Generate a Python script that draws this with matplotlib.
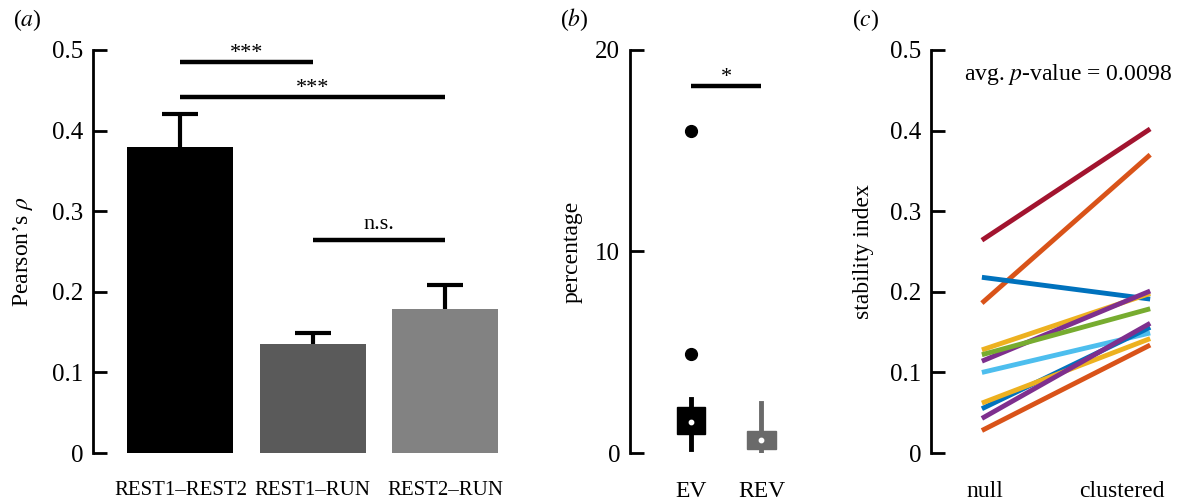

# plot.py
# Three-panel figure: correlation bars, EV/REV boxplot, stability index lines

import numpy as np
import matplotlib.pyplot as plt

plt.rcParams["font.family"] = ["Liberation Serif", "DejaVu Serif"]
plt.rcParams["mathtext.fontset"] = "stix"

# (a) Pearson's rho per session pair
pair_labels = ["REST1\u2013REST2", "REST1\u2013RUN", "REST2\u2013RUN"]
rho_mean = [0.38, 0.135, 0.179]
rho_err = [0.04, 0.014, 0.029]
bar_colors = ["#000000", "#5a5a5a", "#828282"]

# significance brackets: (left bar, right bar, height, label)
sig_pairs = [(0, 1, 0.485, "***"), (0, 2, 0.441, "***"), (1, 2, 0.264, "n.s.")]

# (b) boxplot summaries
box_labels = ["EV", "REV"]
box_q1 = [0.94, 0.2]
box_q3 = [2.27, 1.09]
box_med = [1.53, 0.64]
box_wlo = [0.2, 0.0]
box_whi = [2.7, 2.47]
box_fliers = [[4.9, 16.0], []]
box_colors = ["#000000", "#6a6a6a"]

# (c) stability index, null vs clustered
cond_labels = ["null", "clustered"]
null_vals = [0.264, 0.186, 0.218, 0.128, 0.114, 0.122, 0.100, 0.055, 0.062, 0.043, 0.028]
clus_vals = [0.402, 0.370, 0.191, 0.198, 0.201, 0.179, 0.149, 0.156, 0.142, 0.161, 0.134]
line_colors = ["#A2142F", "#D95319", "#0072BD", "#EDB120", "#7E2F8E", "#77AC30",
               "#4DBEEE", "#0072BD", "#EDB120", "#7E2F8E", "#D95319"]


def style_axis(ax):
    ax.spines["top"].set_visible(False)
    ax.spines["right"].set_visible(False)
    ax.spines["bottom"].set_visible(False)
    ax.spines["left"].set_linewidth(2)
    ax.tick_params(axis="y", direction="in", length=10, width=2, pad=7, labelsize=18)
    ax.tick_params(axis="x", length=0, pad=20, labelsize=15)


fig = plt.figure(figsize=(11.82, 5.04), dpi=100)

# ---- panel (a)
ax1 = fig.add_axes([0.0787, 0.101, 0.345, 0.8])
x = np.arange(len(pair_labels))
ax1.bar(x, rho_mean, width=0.8, color=bar_colors, zorder=2)
eb = ax1.errorbar(x, rho_mean, yerr=rho_err, fmt="none", ecolor="black",
                  elinewidth=3, capsize=13, capthick=3, zorder=1)
eb[1][0].set_visible(False)  # hide lower caps, only the upper half is shown
for i, j, h, lab in sig_pairs:
    ax1.plot([x[i], x[j]], [h, h], color="black", lw=3.2, solid_capstyle="butt")
    if lab == "n.s.":
        ax1.text((x[i] + x[j]) / 2, h + 0.014, lab, ha="center", va="baseline", fontsize=16)
    else:
        ax1.text((x[i] + x[j]) / 2, h + 0.005, lab, ha="center", va="baseline", fontsize=16)
ax1.set_xlim(-0.66, 2.42)
ax1.set_ylim(0, 0.5)
ax1.set_yticks([0, 0.1, 0.2, 0.3, 0.4, 0.5])
ax1.set_yticklabels(["0", "0.1", "0.2", "0.3", "0.4", "0.5"])
ax1.set_xticks(x)
ax1.set_xticklabels(pair_labels)
ax1.set_ylabel("Pearson\u2019s $\\rho$", fontsize=17, labelpad=12)
style_axis(ax1)
fig.text(0.011, 0.948, "($\\it{a}$)", fontsize=17)

# ---- panel (b)
ax2 = fig.add_axes([0.533, 0.101, 0.135, 0.8])
pos = [1, 2]
stats = []
for k in range(2):
    stats.append(dict(med=box_med[k], q1=box_q1[k], q3=box_q3[k],
                      whislo=box_wlo[k], whishi=box_whi[k], fliers=box_fliers[k]))
for k in range(2):
    ax2.bxp([stats[k]], positions=[pos[k]], widths=0.4, patch_artist=True,
            showcaps=False,
            boxprops=dict(facecolor=box_colors[k], edgecolor=box_colors[k], lw=1),
            whiskerprops=dict(color=box_colors[k], lw=3.5),
            medianprops=dict(visible=False),
            flierprops=dict(marker="o", markerfacecolor=box_colors[k],
                            markeredgecolor=box_colors[k], markersize=8.5))
ax2.scatter(pos, box_med, s=10, color="white", zorder=5)
ax2.plot([pos[0], pos[1]], [18.2, 18.2], color="black", lw=3.2, solid_capstyle="butt")
ax2.text(1.5, 18.4, "*", ha="center", va="baseline", fontsize=16)
ax2.set_xlim(0.13, 2.4)
ax2.set_ylim(0, 20)
ax2.set_yticks([0, 10, 20])
ax2.set_xticks(pos)
ax2.set_xticklabels(box_labels)
ax2.set_ylabel("percentage", fontsize=17, labelpad=9)
style_axis(ax2)
ax2.tick_params(axis="x", labelsize=17)
fig.text(0.474, 0.948, "($\\it{b}$)", fontsize=17)

# ---- panel (c)
ax3 = fig.add_axes([0.788, 0.101, 0.205, 0.8])
for nv, cv, c in zip(null_vals, clus_vals, line_colors):
    ax3.plot([0, 1], [nv, cv], color=c, lw=3.5, solid_capstyle="butt")
ax3.text(0.51, 0.47, "avg. $\\it{p}$-value = 0.0098", ha="center", va="center", fontsize=17)
ax3.set_xlim(-0.30, 1.14)
ax3.set_ylim(0, 0.5)
ax3.set_yticks([0, 0.1, 0.2, 0.3, 0.4, 0.5])
ax3.set_yticklabels(["0", "0.1", "0.2", "0.3", "0.4", "0.5"])
# label positions under the two ends (the right label sits a bit inward)
ax3.set_xticks([0.02, 0.83])
ax3.set_xticklabels(cond_labels)
ax3.set_ylabel("stability index", fontsize=17, labelpad=12)
style_axis(ax3)
ax3.tick_params(axis="x", labelsize=17)
fig.text(0.721, 0.948, "($\\it{c}$)", fontsize=17)

fig.savefig("out.png", dpi=100)
